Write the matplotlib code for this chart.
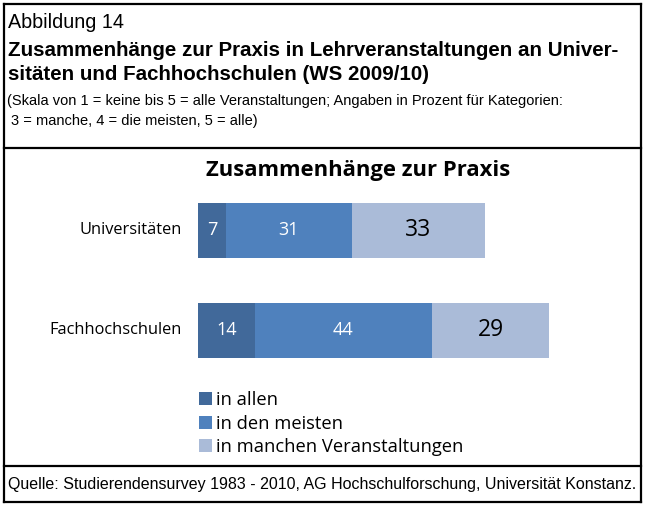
import matplotlib
matplotlib.use("Agg")
import matplotlib.pyplot as plt
from matplotlib.patches import Patch
from matplotlib.lines import Line2D

# --- data ---
categories = ["Universitäten", "Fachhochschulen"]
in_allen = [7, 14]
in_den_meisten = [31, 44]
in_manchen = [33, 29]
series_labels = ["in allen", "in den meisten", "in manchen Veranstaltungen"]
series_colors = ["#41699A", "#4F81BD", "#AABBD8"]

HEAD = ["Liberation Sans", "DejaVu Sans"]
CHART = ["Open Sans", "DejaVu Sans"]

W, H = 645, 505
fig = plt.figure(figsize=(W / 100, H / 100), dpi=100)


def fx(px):
    return px / W


def fy(py):
    return 1 - py / H


# frame and separators
for (x0, y0, x1, y1) in [(4, 4, 641, 4), (4, 502, 641, 502), (4, 4, 4, 502),
                         (641, 4, 641, 502), (4, 148, 641, 148), (4, 466, 641, 466)]:
    fig.add_artist(Line2D([fx(x0), fx(x1)], [fy(y0), fy(y1)], color="black", lw=1.6))

# header texts
fig.text(fx(8), fy(22), "Abbildung 14", family=HEAD, fontsize=14.2, va="center")
fig.text(fx(8), fy(50), "Zusammenhänge zur Praxis in Lehrveranstaltungen an Univer-",
         family=HEAD, fontsize=14.8, weight="bold", va="center")
fig.text(fx(8), fy(75), "sitäten und Fachhochschulen (WS 2009/10)",
         family=HEAD, fontsize=14.8, weight="bold", va="center")
fig.text(fx(7), fy(101), "(Skala von 1 = keine bis 5 = alle Veranstaltungen; Angaben in Prozent für Kategorien:",
         family=HEAD, fontsize=10.55, va="center")
fig.text(fx(11), fy(121), "3 = manche, 4 = die meisten, 5 = alle)",
         family=HEAD, fontsize=10.55, va="center")
fig.text(fx(8), fy(484), "Quelle: Studierendensurvey 1983 - 2010, AG Hochschulforschung, Universität Konstanz.",
         family=HEAD, fontsize=11.55, va="center")

# chart title
fig.text(fx(358), fy(170), "Zusammenhänge zur Praxis", family=CHART, fontsize=15.8,
         weight="bold", ha="center", va="center")

# bar axes
ax = fig.add_axes([fx(198), fy(380), fx(602) - fx(198), (380 - 180) / H])
ax.set_xlim(0, 100)
ax.set_ylim(1.5, -0.5)
ax.axis("off")

ypos = list(range(len(categories)))
left = [0] * len(categories)
segments = [in_allen, in_den_meisten, in_manchen]
for i, (vals, col) in enumerate(zip(segments, series_colors)):
    ax.barh(ypos, vals, left=left, height=0.55, color=col)
    for y, l, v in zip(ypos, left, vals):
        if i < 2:
            ax.text(l + v / 2, y, str(v), color="white", fontsize=13, family=CHART,
                    ha="center", va="center")
        else:
            ax.text(l + v / 2, y, str(v), color="black", fontsize=16.5, family=CHART,
                    ha="center", va="center")
    left = [a + b for a, b in zip(left, vals)]

for y, cat in zip(ypos, categories):
    ax.text(-4, y, cat, ha="right", va="center", fontsize=11.8, family=CHART)

# legend
handles = [Patch(facecolor=c, edgecolor="none") for c in series_colors]
fig.legend(handles, series_labels, loc="upper left", bbox_to_anchor=(fx(190), fy(382)),
           frameon=False, prop={"family": CHART, "size": 13.2}, handlelength=0.7,
           handleheight=0.7, handletextpad=0.2, labelspacing=0.3, borderpad=0)

fig.savefig("out.png", dpi=100)
